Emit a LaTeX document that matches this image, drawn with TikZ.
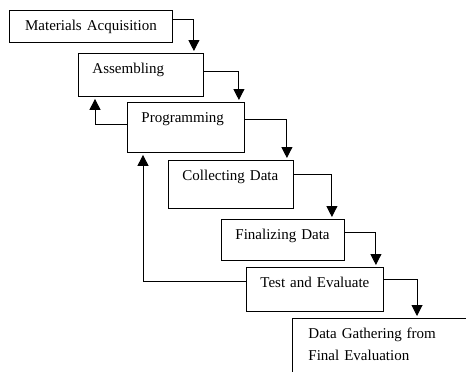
\documentclass[tikz,border=0pt]{standalone}
\usepackage{fontspec}
\setmainfont{Liberation Serif}
\usetikzlibrary{arrows.meta}
\tikzstyle{stage} = [
  rectangle,
  anchor=north west,
  draw=black,
  line width=0.9pt,
  inner xsep=14pt,
  inner ysep=10pt,
  text height=10pt,
  align=left,
  font=\fontsize{15}{22}\selectfont
]
\tikzstyle{arrow} = [
  line width=1pt,
  shorten >=2pt,
  -{Triangle[width=11pt,length=11pt]}
]
\begin{document}
\begin{tikzpicture}[x=1pt, y=-1pt]
      \useasboundingbox (0,0) rectangle (466,372);
      \node [stage, align=center, text width=135pt, text depth=2pt] (acq) at (9,10) {Materials Acquisition};
      \node [stage, text width=97pt, text depth=13pt] (assemble) at (78,53) {Assembling};
      \node [stage, text width=89pt, text depth=20pt] (prog) at (127,102) {Programming};
      \node [stage, text width=97pt, text depth=18pt] (collect) at (168,160) {Collecting Data};
      \node [stage, text width=95pt, text depth=11pt] (final) at (221,219) {Finalizing Data};
      \node [stage, text width=109pt, text depth=14pt] (test) at (246,267) {Test and Evaluate};
      \node [stage, draw=none, inner xsep=16pt, text width=168pt, text depth=50pt] (gather) at (292,318) {Data Gathering from\\Final Evaluation};
      % box runs off the page
      \draw [line width=0.9pt] (gather.south west) |- (gather.north east);

      \draw [arrow] ([yshift=-9pt]acq.north east) -| ([xshift=-10pt]assemble.north east);
      \draw [arrow] ([yshift=-18pt]assemble.north east) -| ([xshift=-6pt]prog.north east);
      \draw [arrow] ([yshift=-17pt]prog.north east) -| ([xshift=-7pt]collect.north east);
      \draw [arrow] ([yshift=-14pt]collect.north east) -| ([xshift=-13pt]final.north east);
      \draw [arrow] ([yshift=-13pt]final.north east) -| ([xshift=-8pt]test.north east);
      \draw [arrow] ([yshift=-12pt]test.north east) -| ([xshift=125pt]gather.north west);
      \draw [arrow] ([yshift=-22pt]prog.north west) -| ([xshift=17pt]assemble.south west);
      \draw [arrow] ([yshift=-14pt]test.north west) -| ([xshift=16pt]prog.south west);

    \end{tikzpicture}
\end{document}
